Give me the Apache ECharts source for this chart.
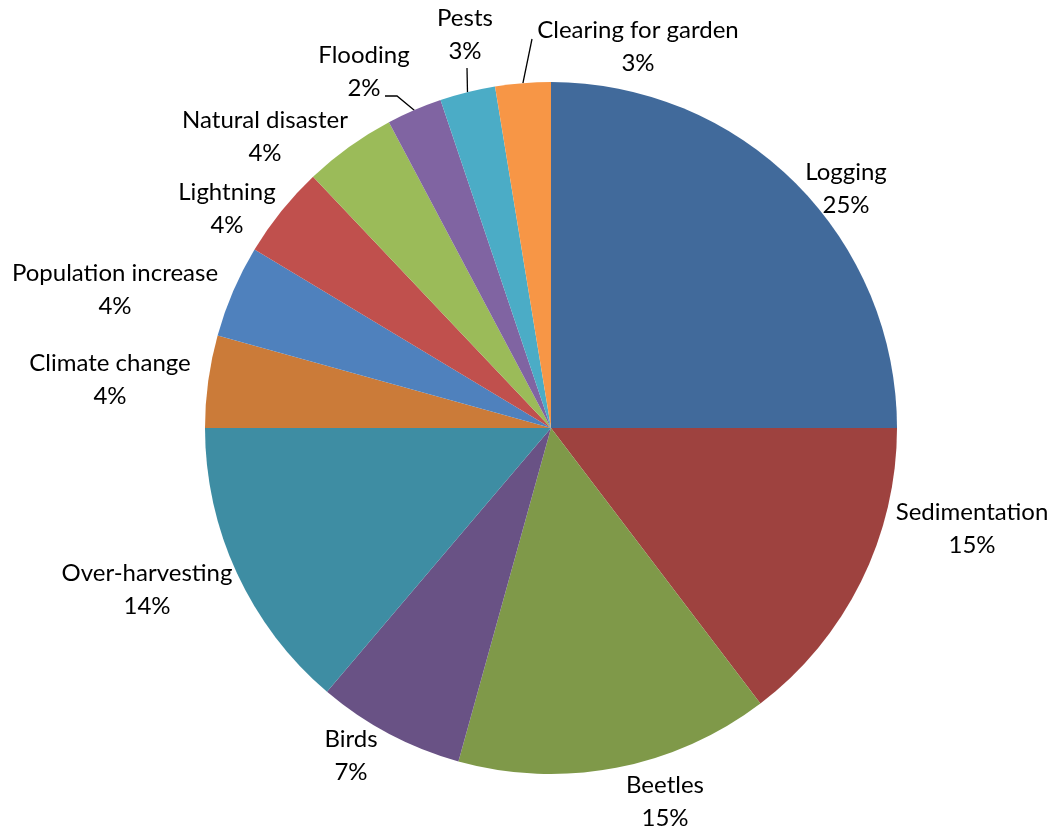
<!DOCTYPE html>
<html>
<head>
<meta charset="utf-8">
<script src="https://cdn.jsdelivr.net/npm/echarts@6/dist/echarts.min.js"></script>
<style>
html,body{margin:0;padding:0;background:#fff;}
#chart{width:1055px;height:832px;}
</style>
</head>
<body>
<div id="chart"></div>
<script>
// ---- data ----
const categories = ['Logging','Sedimentation','Beetles','Birds','Over-harvesting','Climate change',
  'Population increase','Lightning','Natural disaster','Flooding','Pests','Clearing for garden'];
const values = [29,17,17,8,16,5,5,5,5,3,3,3];
const colors = ['#416A9B','#9E423F','#7F9949','#695285','#3E8DA3','#CB7B39',
  '#4F81BD','#C0504D','#9BBB59','#8064A2','#4BACC6','#F79646'];

// ---- layout (label centres, leader-line start points) ----
const CX = 551, CY = 428, R = 346;
const labelCenters = [[846,189],[972,529],[665,802],[351,756],[147,590],[110,380],
  [115,290],[227,209],[265,137],[364,72],[465,35],[638,47]];
const leaderStart = {9: [[385,96],[397,96]], 10: [[467,68]], 11: [[532,39]]};

// percentages with largest-remainder rounding (sum = 100)
function percentLabels(vals){
  const sum = vals.reduce((a,b)=>a+b,0);
  const raw = vals.map(v=>v/sum*100);
  const seats = raw.map(Math.floor);
  const rem = raw.map((r,i)=>r-seats[i]);
  let cur = seats.reduce((a,b)=>a+b,0);
  while(cur<100){
    let m=-1, mi=0;
    rem.forEach((r,i)=>{ if(r>=m){m=r;mi=i;} });
    seats[mi]++; rem[mi]=-1; cur++;
  }
  return seats;
}
const pct = percentLabels(values);
const total = values.reduce((a,b)=>a+b,0);
function rimPoint(i){
  let cum = 0; for(let k=0;k<i;k++) cum += values[k];
  const a = (cum + values[i]/2)/total*2*Math.PI;
  return [CX + R*Math.sin(a), CY - R*Math.cos(a)];
}

const chart = echarts.init(document.getElementById('chart'));
chart.setOption({
  backgroundColor:'#fff',
  animation:false,
  series:[{
    type:'pie',
    center:[CX,CY],
    radius:R,
    startAngle:90,
    clockwise:true,
    avoidLabelOverlap:false,
    itemStyle:{borderWidth:0},
    label:{
      show:true,
      position:'outside',
      color:'#000',
      fontFamily:'Lato',
      fontSize:24,
      lineHeight:33,
      formatter:(p)=> p.name + '\n' + pct[p.dataIndex] + '%'
    },
    labelLine:{show:false, lineStyle:{color:'#000', width:1.3}},
    labelLayout:(p)=>{
      const i = p.dataIndex;
      const c = labelCenters[i];
      const o = {x:c[0], y:c[1], align:'center', verticalAlign:'middle'};
      if(leaderStart[i]) o.labelLinePoints = leaderStart[i].concat([rimPoint(i)]);
      return o;
    },
    data: categories.map((n,i)=>({
      name:n, value:values[i],
      itemStyle:{color:colors[i]},
      labelLine:{show: !!leaderStart[i]}
    }))
  }]
});
</script>
</body>
</html>
